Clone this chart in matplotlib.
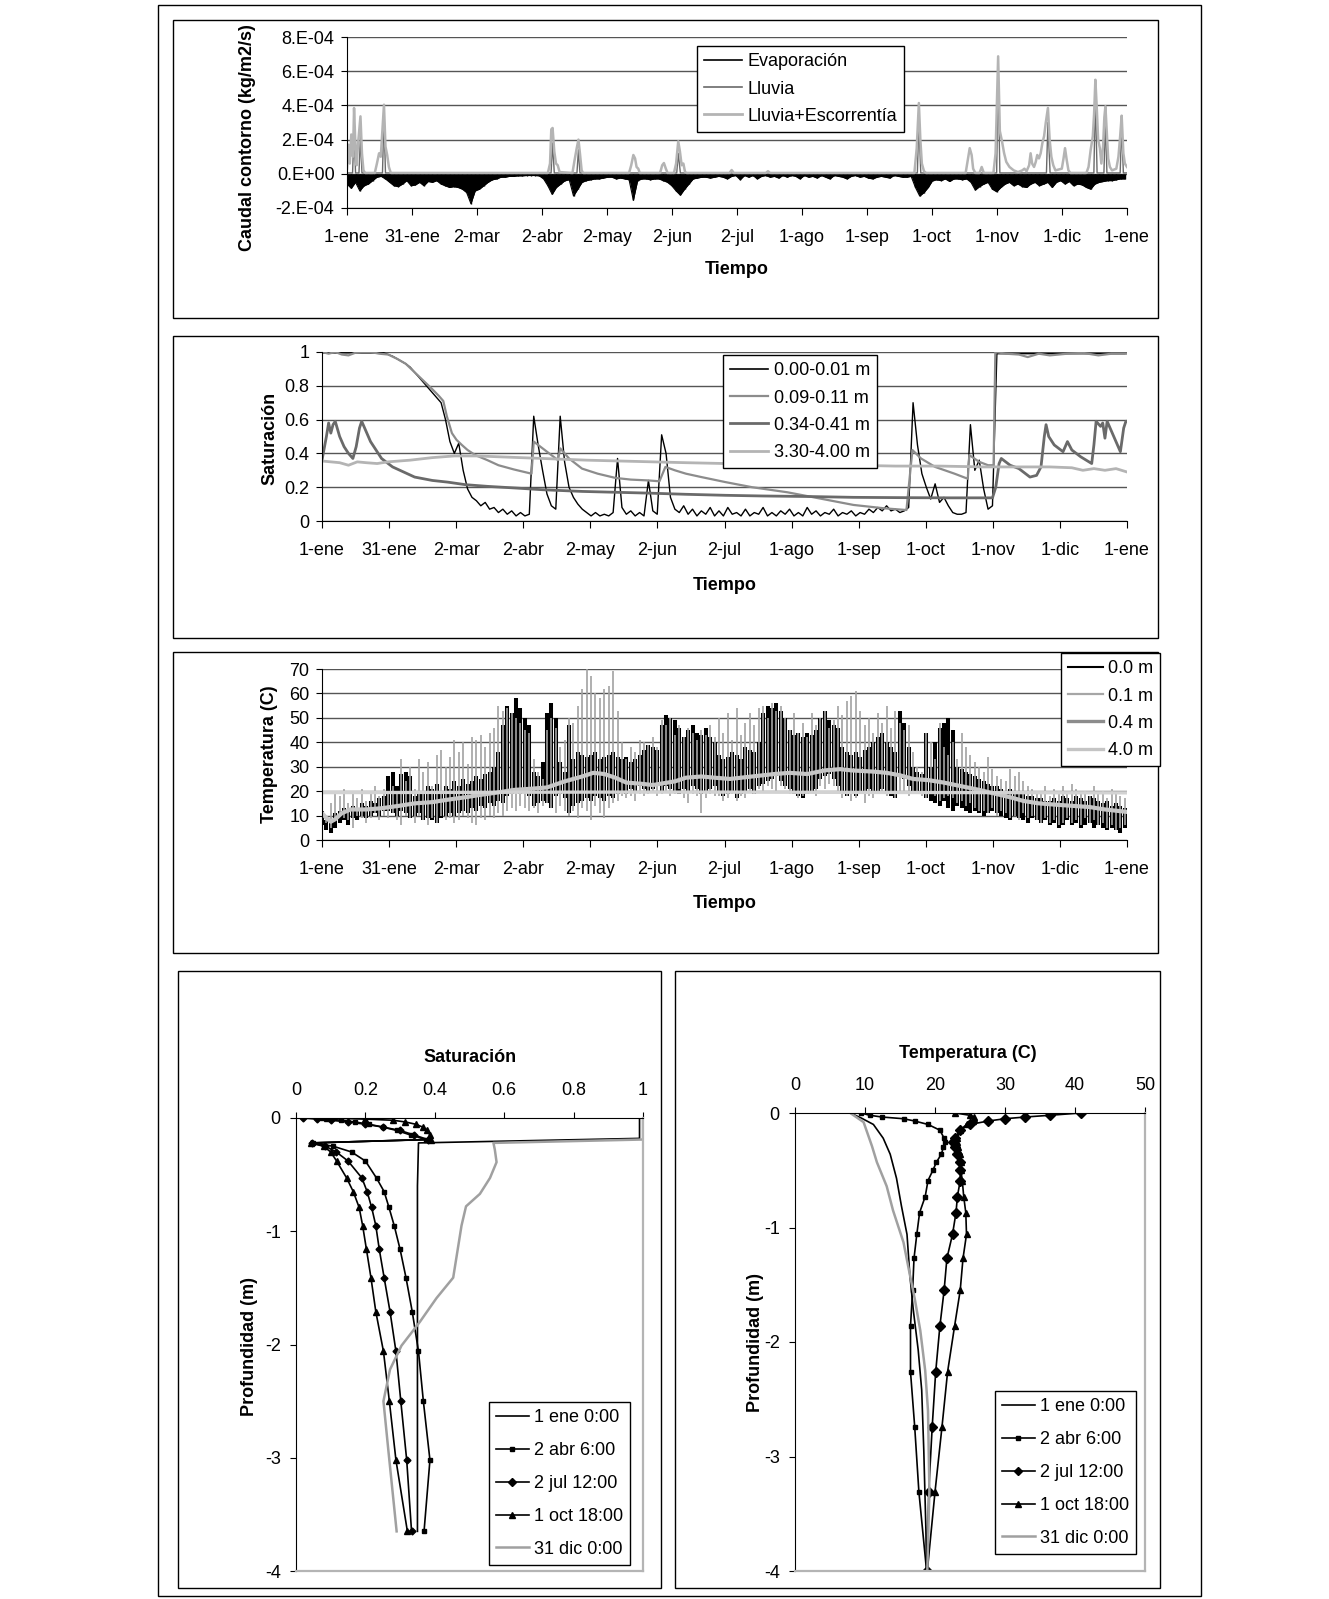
import numpy as np
import matplotlib
matplotlib.use("Agg")
import matplotlib.pyplot as plt
from matplotlib.lines import Line2D
from matplotlib.patches import Rectangle

plt.rcParams['font.family'] = ['Liberation Sans', 'DejaVu Sans']
plt.rcParams['font.size'] = 13

W, H = 1329, 1599

# ---------------- eje de tiempo ----------------
meses = ['1-ene', '31-ene', '2-mar', '2-abr', '2-may', '2-jun', '2-jul',
         '1-ago', '1-sep', '1-oct', '1-nov', '1-dic', '1-ene']
dias = np.arange(0, 365, 2)          # muestreo cada 2 dias

# ---------------- caudal de contorno (x 1e-4 kg/m2/s) ----------------
evap = [
    -0.6, -0.85, -0.5, -1.0, -0.7, -0.6, -0.4, -0.2, -0.15, -0.3, -0.5, -0.7, -0.75, -0.6, -0.4,
    -0.7, -0.65, -0.5, -0.7, -0.45, -0.5, -0.4, -0.6, -0.7, -0.8, -0.75, -0.8, -0.9, -1.1, -1.75,
    -1.0, -0.9, -0.7, -0.5, -0.35, -0.3, -0.2, -0.2, -0.15, -0.15, -0.12, -0.12, -0.1, -0.1, -0.1,
    -0.12, -0.3, -0.7, -1.2, -0.8, -0.6, -0.4, -0.35, -1.3, -0.9, -0.5, -0.4, -0.35, -0.3, -0.3,
    -0.25, -0.2, -0.2, -0.3, -0.25, -0.3, -0.35, -1.55, -0.4, -0.3, -0.3, -0.35, -0.3, -0.3, -0.4,
    -0.5, -0.7, -1.0, -1.25, -0.9, -0.6, -0.3, -0.25, -0.2, -0.2, -0.25, -0.2, -0.15, -0.2, -0.3,
    -0.15, -0.1, -0.35, -0.1, -0.2, -0.1, -0.3, -0.15, -0.1, -0.2, -0.15, -0.25, -0.1, -0.2, -0.1,
    -0.15, -0.3, -0.1, -0.2, -0.15, -0.25, -0.1, -0.2, -0.3, -0.1, -0.15, -0.2, -0.3, -0.15, -0.1,
    -0.2, -0.15, -0.25, -0.3, -0.2, -0.15, -0.2, -0.25, -0.1, -0.15, -0.2, -0.2, -0.15, -0.8, -1.3,
    -1.1, -0.8, -0.4, -0.35, -0.4, -0.3, -0.45, -0.3, -0.3, -0.35, -0.3, -0.5, -0.95, -0.75, -0.6,
    -0.5, -0.9, -1.05, -0.8, -0.6, -0.5, -0.7, -0.6, -0.75, -0.8, -0.6, -0.5, -0.7, -0.6, -0.5,
    -0.8, -0.5, -0.4, -0.6, -0.45, -0.7, -0.6, -0.65, -0.8, -0.9, -0.6, -0.5, -0.45, -0.4, -0.4,
    -0.35, -0.3, -0.3]

lluvia = [
    (0, 0.05), (2.6, 0.05), (3.3, 2.5), (4, 0.05), (5.6, 0.05), (6.3, 2.2), (7, 0.05),
    (16.6, 0.05), (17.3, 3.4), (18, 0.05), (95.5, 0.05), (96.2, 1.8), (97, 0.05),
    (107.6, 0.05), (108.3, 1.4), (109, 0.05), (154.3, 0.05), (155, 1.2), (156, 0.05),
    (266.9, 0.05), (267.6, 3.0), (268.5, 0.05), (304, 0.05), (304.7, 5.9), (305.5, 0.05),
    (327.3, 0.05), (328, 3.0), (329, 0.05), (349.5, 0.05), (350.2, 4.6), (351, 0.05),
    (354.2, 0.05), (354.9, 3.2), (355.6, 0.05), (361.8, 0.05), (362.5, 2.8), (363.3, 0.05),
    (365, 0.05)]

lluvia_esc = [
    (0, 0.3), (0.7, 1.7), (1.3, 0.6), (2, 2.3), (2.8, 1.0), (3.3, 3.85), (4, 1.5), (4.5, 0.5),
    (5.2, 1.8), (6.3, 3.36), (7, 1.2), (7.7, 0.2), (8.5, 0.05),
    (13, 0.05), (14, 0.6), (15, 1.2), (15.8, 1.0), (16.5, 2.4), (17.3, 4.04), (18, 1.6),
    (18.8, 1.1), (19.6, 0.4), (20.5, 0.05),
    (94, 0.05), (95, 0.6), (95.6, 2.6), (96.2, 2.68), (97, 1.3), (97.8, 0.6), (98.6, 0.5),
    (99.5, 0.1), (105.5, 0.05), (106.5, 0.8), (107.5, 1.5), (108.3, 2.0), (109, 1.2),
    (109.8, 0.2), (110.5, 0.05),
    (132, 0.05), (133, 0.5), (134, 1.1), (134.8, 0.9), (135.5, 0.4), (136.3, 0.3), (137, 0.05),
    (146.5, 0.05), (147.5, 0.5), (148.3, 0.63), (149.2, 0.3), (150, 0.05), (153, 0.05),
    (154, 0.6), (155, 1.9), (155.8, 1.3), (156.6, 0.5), (157.4, 0.6), (158.2, 0.1), (159, 0.05),
    (179, 0.05), (180, 0.22), (181, 0.05), (196, 0.05), (197, 0.15), (198, 0.05),
    (265.5, 0.05), (266.6, 1.5), (267.6, 4.14), (268.3, 2.0), (269, 0.6), (270, 0.15), (271, 0.05),
    (289.5, 0.05), (290.5, 0.8), (291.4, 1.5), (292.3, 1.1), (293, 0.3), (294, 0.05),
    (296, 0.05), (297, 0.4), (298, 0.05),
    (302.5, 0.05), (303.5, 1.2), (304.7, 6.87), (305.5, 2.5), (306.5, 1.9), (307.5, 1.2),
    (308.5, 0.7), (310, 0.4), (312, 0.2), (314, 0.1),
    (316, 0.2), (317, 0.3), (318, 0.15), (319.2, 0.5), (319.9, 1.2), (320.6, 0.6), (321.5, 0.4),
    (322.3, 0.7), (323, 1.1), (323.8, 0.9), (324.6, 1.2), (325.4, 1.8), (326.2, 2.2), (327, 3.0),
    (328, 3.85), (328.8, 2.0), (329.6, 1.0), (330.5, 0.5), (331.5, 0.2),
    (334.5, 0.3), (335.3, 0.9), (336, 1.5), (336.8, 0.8), (337.6, 0.2), (338.5, 0.05),
    (346, 0.05), (347, 0.4), (348, 1.4), (349, 2.2), (349.6, 3.5), (350.2, 5.5), (350.8, 4.0),
    (351.5, 2.0), (352.3, 1.5), (353, 0.6), (353.8, 1.6), (354.4, 3.3), (354.9, 3.95),
    (355.5, 2.5), (356.2, 0.9), (357, 0.4), (358, 0.2), (360, 0.3), (361, 1.0), (361.8, 2.2),
    (362.5, 3.4), (363.3, 1.2), (364, 0.6), (365, 0.4)]

# ---------------- saturacion ----------------
sat_000 = [
    0.995, 0.995, 0.995, 0.995, 0.995, 0.995, 0.995, 0.995, 0.995, 0.995, 0.995, 0.995, 0.995, 0.995, 0.995,
    0.985, 0.975, 0.96, 0.945, 0.93, 0.91, 0.88, 0.85, 0.82, 0.79, 0.76, 0.73, 0.70, 0.60, 0.47,
    0.40, 0.46, 0.30, 0.19, 0.14, 0.12, 0.09, 0.11, 0.07, 0.08, 0.05, 0.07, 0.04, 0.06, 0.03,
    0.05, 0.03, 0.04, 0.62, 0.45, 0.30, 0.16, 0.09, 0.07, 0.62, 0.35, 0.20, 0.14, 0.10, 0.07,
    0.05, 0.03, 0.05, 0.03, 0.04, 0.03, 0.05, 0.37, 0.08, 0.04, 0.06, 0.03, 0.05, 0.03, 0.24,
    0.06, 0.04, 0.51, 0.40, 0.14, 0.07, 0.05, 0.09, 0.04, 0.07, 0.03, 0.06, 0.04, 0.08, 0.03,
    0.06, 0.03, 0.08, 0.04, 0.05, 0.03, 0.07, 0.03, 0.05, 0.04, 0.08, 0.03, 0.05, 0.03, 0.06,
    0.04, 0.07, 0.03, 0.05, 0.03, 0.08, 0.04, 0.06, 0.03, 0.05, 0.04, 0.07, 0.03, 0.05, 0.04,
    0.06, 0.03, 0.05, 0.04, 0.07, 0.05, 0.08, 0.06, 0.09, 0.06, 0.07, 0.05, 0.06, 0.08, 0.70,
    0.45, 0.28, 0.20, 0.13, 0.22, 0.11, 0.14, 0.09, 0.05, 0.04, 0.04, 0.05, 0.57, 0.30, 0.36,
    0.19, 0.07, 0.09, 0.99, 0.99, 0.99, 0.99, 0.99, 0.99, 0.99, 0.99, 0.99, 0.99, 0.99, 0.99,
    0.99, 0.99, 0.99, 0.99, 0.99, 0.99, 0.99, 0.99, 0.99, 0.99, 0.99, 0.99, 0.99, 0.99, 0.99,
    0.99, 0.99, 0.99]

sat_009 = [
    (0, 1.0), (3, 0.99), (6, 1.0), (9, 0.985), (12, 0.98), (15, 0.995), (18, 1.0), (22, 1.0),
    (26, 0.99), (30, 0.985), (34, 0.96), (38, 0.93), (42, 0.88), (46, 0.83), (50, 0.78),
    (53, 0.74), (55, 0.71), (56.6, 0.62), (58.9, 0.52), (61, 0.48), (63.4, 0.45), (66, 0.42),
    (69.5, 0.39), (75, 0.36), (80, 0.33), (87, 0.305), (95, 0.28), (96, 0.47), (99, 0.44),
    (103, 0.40), (107, 0.36), (108, 0.43), (112, 0.37), (117.9, 0.31), (125, 0.28),
    (133, 0.255), (140, 0.245), (148, 0.24), (153, 0.235), (155.7, 0.32), (160, 0.30),
    (165, 0.28), (172, 0.26), (183, 0.23), (195, 0.2), (211, 0.17), (225, 0.135),
    (241, 0.095), (255, 0.075), (265, 0.065), (267.7, 0.42), (271.6, 0.37), (278, 0.32),
    (286.8, 0.28), (292.8, 0.25), (293.5, 0.39), (298, 0.35), (302, 0.33), (304.5, 0.33),
    (305.3, 1.0), (310, 0.99), (316, 0.985), (320, 0.97), (325, 0.99), (330, 0.98),
    (338, 0.99), (345, 0.995), (352, 0.98), (358, 0.99), (365, 0.99)]

sat_034 = [
    (0, 0.36), (1, 0.43), (2, 0.5), (3, 0.58), (4, 0.52), (5, 0.57), (6, 0.59), (8, 0.5),
    (10, 0.44), (12, 0.4), (14, 0.37), (15.5, 0.44), (17, 0.55), (18, 0.59), (20, 0.53),
    (22, 0.47), (25, 0.41), (27, 0.37), (32, 0.32), (37, 0.29), (42, 0.26), (50, 0.24),
    (57, 0.23), (65, 0.215), (75, 0.205), (88, 0.195), (100, 0.185), (118, 0.175),
    (133, 0.17), (148, 0.165), (165, 0.158), (183, 0.152), (200, 0.148), (220, 0.145),
    (241, 0.14), (265, 0.138), (285, 0.137), (304, 0.137), (305.5, 0.2), (307, 0.34),
    (308, 0.37), (312, 0.33), (316, 0.31), (321, 0.26), (324, 0.27), (326, 0.32), (327.5, 0.5),
    (328.3, 0.57), (329.5, 0.50), (332, 0.45), (334, 0.43), (336, 0.41), (337, 0.44),
    (338, 0.47), (340, 0.42), (344, 0.38), (349, 0.34), (350, 0.45), (351, 0.59), (353, 0.56),
    (354, 0.58), (355, 0.49), (356, 0.59), (358, 0.53), (360, 0.47), (362, 0.41),
    (363.5, 0.55), (364.5, 0.59), (365, 0.59)]

sat_330 = [
    (0, 0.355), (4, 0.35), (8, 0.345), (12, 0.33), (16, 0.35), (20, 0.345), (25, 0.34),
    (30, 0.35), (40, 0.36), (50, 0.375), (60, 0.385), (70, 0.385), (80, 0.38), (90, 0.375),
    (100, 0.37), (110, 0.365), (120, 0.36), (135, 0.355), (150, 0.35), (165, 0.345),
    (183, 0.34), (200, 0.335), (220, 0.33), (240, 0.33), (260, 0.325), (280, 0.325),
    (300, 0.32), (315, 0.32), (330, 0.32), (340, 0.315), (345, 0.30), (350, 0.31),
    (355, 0.30), (360, 0.31), (365, 0.29)]

# ---------------- temperatura (C): maximo / minimo cada 2 dias ----------------
t01_max = [
    12, 10, 15, 19, 18, 21, 15, 20, 17, 21, 16, 20, 22, 18, 21,
    20, 22, 19, 33, 24, 30, 21, 33, 28, 32, 22, 35, 37, 30, 34,
    41, 36, 40, 31, 42, 41, 43, 38, 44, 46, 55, 53, 54, 52, 50,
    48, 45, 44, 33, 28, 25, 45, 50, 46, 38, 41, 50, 48, 55, 62,
    70, 67, 60, 58, 62, 63, 69, 53, 40, 33, 38, 36, 41, 40, 39,
    42, 38, 49, 47, 50, 43, 47, 42, 46, 44, 41, 45, 43, 47, 42,
    50, 44, 52, 41, 54, 43, 48, 52, 47, 54, 55, 50, 56, 53, 55,
    50, 45, 52, 44, 48, 42, 52, 47, 50, 53, 46, 49, 55, 51, 57,
    59, 61, 53, 47, 50, 44, 52, 48, 55, 46, 53, 48, 45, 47, 36,
    30, 28, 44, 40, 33, 48, 38, 35, 40, 33, 44, 38, 35, 32, 30,
    28, 34, 29, 26, 25, 24, 29, 26, 28, 24, 22, 21, 20, 19, 22,
    18, 21, 20, 22, 19, 23, 21, 19, 20, 18, 22, 19, 20, 17, 21,
    19, 18, 17]
t01_min = [
    9, 7, 5, 8, 10, 9, 8, 5, 10, 9, 7, 9, 11, 8, 10,
    9, 11, 8, 6, 10, 9, 7, 10, 8, 6, 9, 7, 10, 8, 9,
    7, 8, 10, 9, 7, 6, 9, 8, 10, 9, 11, 10, 12, 13, 12,
    14, 13, 12, 13, 11, 14, 15, 13, 11, 14, 12, 10, 12, 9, 13,
    12, 8, 14, 11, 9, 13, 15, 16, 18, 17, 18, 16, 19, 18, 19,
    20, 18, 19, 20, 18, 19, 21, 17, 15, 19, 18, 11, 17, 19, 18,
    18, 16, 17, 19, 16, 18, 17, 20, 19, 21, 20, 22, 21, 20, 22,
    21, 19, 20, 17, 18, 19, 20, 18, 22, 21, 23, 22, 20, 17, 18,
    16, 17, 19, 15, 18, 17, 19, 20, 18, 19, 17, 20, 19, 18, 20,
    19, 18, 17, 19, 18, 16, 17, 18, 17, 15, 16, 14, 15, 13, 12,
    12, 11, 13, 10, 12, 11, 9, 10, 8, 11, 9, 10, 8, 7, 9,
    7, 8, 6, 7, 9, 7, 8, 6, 9, 7, 8, 6, 7, 5, 6,
    4, 5, 6]
t00_max = [
    12, 8, 7, 11, 12, 13, 12, 14, 13, 15, 14, 16, 15, 17, 18,
    26, 28, 22, 27, 28, 26, 18, 20, 19, 22, 21, 23, 20, 22, 21,
    24, 22, 25, 23, 24, 26, 25, 27, 28, 30, 36, 47, 55, 52, 58,
    54, 50, 47, 28, 26, 32, 52, 56, 50, 32, 28, 47, 33, 36, 35,
    34, 35, 36, 33, 34, 35, 36, 34, 33, 34, 32, 33, 35, 37, 39,
    38, 37, 47, 51, 50, 49, 46, 42, 45, 47, 44, 43, 46, 42, 40,
    35, 33, 34, 36, 35, 33, 38, 37, 36, 40, 52, 55, 54, 56, 53,
    50, 45, 43, 44, 42, 44, 43, 45, 50, 53, 49, 47, 46, 38, 36,
    35, 36, 34, 37, 38, 40, 42, 44, 40, 38, 36, 53, 48, 38, 30,
    28, 27, 44, 30, 40, 46, 48, 50, 45, 30, 29, 28, 27, 26, 25,
    24, 23, 22, 22, 21, 20, 21, 20, 19, 19, 18, 18, 17, 17, 16,
    16, 17, 16, 18, 17, 16, 18, 17, 16, 18, 17, 16, 15, 16, 14,
    15, 14, 13]
t00_min = [
    6, 4, 3, 5, 7, 8, 6, 9, 8, 10, 9, 10, 11, 10, 12,
    12, 11, 10, 12, 11, 9, 10, 11, 8, 9, 8, 7, 9, 10, 11,
    10, 11, 12, 11, 13, 12, 14, 13, 15, 14, 16, 15, 18, 19, 20,
    19, 20, 18, 14, 15, 16, 15, 13, 18, 19, 17, 11, 14, 15, 16,
    17, 16, 18, 17, 16, 18, 17, 19, 20, 19, 21, 20, 22, 21, 20,
    21, 22, 20, 22, 21, 20, 19, 21, 20, 22, 21, 19, 20, 21, 22,
    20, 18, 19, 20, 17, 19, 20, 21, 19, 22, 23, 24, 25, 26, 24,
    22, 21, 19, 18, 17, 19, 20, 21, 25, 26, 27, 25, 22, 19, 18,
    19, 18, 20, 19, 21, 20, 19, 21, 20, 18, 17, 26, 25, 22, 20,
    20, 19, 17, 16, 15, 14, 16, 13, 12, 14, 13, 12, 11, 12, 11,
    10, 11, 12, 11, 10, 9, 8, 10, 9, 8, 7, 9, 8, 7, 8,
    6, 7, 5, 6, 8, 6, 7, 5, 6, 7, 5, 6, 5, 4, 5,
    4, 3, 5]
t04 = [
    (0, 11), (2, 9), (4, 7.5), (6, 8.5), (9, 11), (13, 12.5), (20, 12.5), (27, 13), (35, 14),
    (42, 15), (50, 15.5), (57, 16.5), (65, 17.5), (72, 18.5), (80, 19.5), (87, 20.5), (95, 21),
    (102, 21.5), (110, 24), (118, 26), (123, 27.5), (128, 27), (133, 25.5), (138, 23.5),
    (145, 23), (150, 22.5), (160, 24), (165, 25.5), (172, 26), (178, 25.5), (185, 25),
    (195, 26), (205, 27), (212, 27.5), (220, 27), (228, 28.5), (235, 29), (240, 28.5),
    (250, 28), (256, 27.5), (262, 26.5), (268, 25), (275, 24.5), (282, 23.5), (290, 22),
    (298, 20.5), (305, 19), (312, 17.5), (318, 16), (325, 15), (332, 14.5), (340, 14),
    (348, 13.5), (355, 12.5), (365, 11.5)]
t40 = [(0, 19.4), (60, 19.5), (120, 19.6), (180, 19.6), (240, 19.5), (300, 19.4), (365, 19.3)]

# ---------------- perfiles de saturacion ----------------
prof_sup = [0, -0.01, -0.02, -0.035, -0.055, -0.08, -0.11, -0.15, -0.19]
prof_inf = [-0.22, -0.25, -0.30, -0.38, -0.53, -0.65, -0.79, -0.95, -1.16, -1.41, -1.71,
            -2.06, -2.50, -3.02, -3.65]
prof_s = prof_sup + prof_inf
sat_abr = [0.075, 0.10, 0.13, 0.17, 0.21, 0.25, 0.29, 0.33, 0.375,
           0.05, 0.108, 0.16, 0.20, 0.232, 0.254, 0.268, 0.283, 0.30, 0.317, 0.335, 0.353,
           0.367, 0.386, 0.369]
sat_jul = [0.02, 0.06, 0.10, 0.15, 0.20, 0.25, 0.30, 0.34, 0.38,
           0.045, 0.085, 0.116, 0.15, 0.19, 0.205, 0.218, 0.23, 0.24, 0.254, 0.271, 0.288,
           0.302, 0.319, 0.333]
sat_oct = [0.09, 0.20, 0.28, 0.315, 0.345, 0.365, 0.378, 0.386, 0.39,
           0.042, 0.08, 0.10, 0.117, 0.146, 0.165, 0.182, 0.192, 0.203, 0.216, 0.23, 0.252,
           0.269, 0.288, 0.321]
prof_ene_s = [0, -0.18, -0.22, -0.6, -3.65]
sat_ene = [0.99, 0.99, 0.353, 0.35, 0.35]
prof_dic_s = [0, -0.19, -0.22, -0.28, -0.39, -0.53, -0.67, -0.78, -0.95, -1.41, -1.59,
              -1.80, -2.01, -2.22, -2.50, -2.93, -3.65]
sat_dic = [1.0, 1.0, 0.569, 0.573, 0.578, 0.559, 0.53, 0.49, 0.477, 0.453, 0.405, 0.357,
           0.304, 0.271, 0.252, 0.266, 0.29]

# ---------------- perfiles de temperatura ----------------
prof_t = [0, -0.02, -0.035, -0.05, -0.07, -0.1, -0.15, -0.22, -0.25, -0.3, -0.36, -0.43,
          -0.5, -0.59, -0.73, -0.87, -1.06, -1.27, -1.55, -1.86, -2.26, -2.74, -3.31, -4.0]
temp_abr = [9.4, 10.7, 12.4, 15.5, 17.1, 19.0, 20.7, 21.3, 21.4, 21.2, 20.9, 20.2, 19.7,
            19.0, 18.6, 17.8, 17.4, 17.0, 16.8, 16.5, 16.5, 17.1, 17.7, 18.8]
temp_jul = [40.8, 36.4, 32.9, 30.0, 27.6, 25.0, 23.5, 22.9, 22.6, 22.9, 23.2, 23.5, 23.6,
            23.6, 23.2, 23.0, 22.5, 21.7, 21.3, 20.7, 20.1, 19.6, 19.1, 18.9]
temp_oct = [22.9, 25.0, 25.6, 25.6, 25.4, 24.5, 23.6, 23.2, 23.2, 23.3, 23.6, 23.7, 23.7,
            23.9, 24.1, 24.4, 24.5, 24.0, 23.6, 22.8, 21.8, 21.0, 20.0, 18.9]
prof_ene_t = [0, -0.045, -0.1, -0.22, -0.36, -0.57, -0.81, -1.06, -1.41, -1.72, -2.07,
              -2.42, -2.95, -3.64, -4.0]
temp_ene = [7.9, 9.5, 11.2, 12.6, 13.6, 14.5, 15.2, 16.0, 16.4, 16.9, 17.6, 18.1, 18.4,
            18.7, 18.8]
prof_dic_t = [0, -0.08, -0.15, -0.29, -0.43, -0.64, -0.85, -1.13, -1.41, -1.62, -1.9,
              -2.25, -2.6, -3.3, -4.0]
temp_dic = [7.9, 9.8, 10.2, 11.0, 11.7, 13.1, 14.0, 15.5, 16.4, 17.1, 17.9, 18.6, 19.0,
            19.2, 18.9]

NEGRO, GRIS_OSC, GRIS, GRIS_CL = '#000000', '#6a6a6a', '#8c8c8c', '#b4b4b4'

fig = plt.figure(figsize=(W / 100, H / 100), dpi=100)


def px_axes(x0, y0, x1, y1):
    return fig.add_axes([x0 / W, 1 - y1 / H, (x1 - x0) / W, (y1 - y0) / H])


def marco(x0, y0, x1, y1, lw=1.0):
    fig.add_artist(Rectangle((x0 / W, 1 - y1 / H), (x1 - x0) / W, (y1 - y0) / H,
                             transform=fig.transFigure, fill=False, ec='k', lw=lw, zorder=-1))


def texto(x, y, s, **kw):
    fig.text(x / W, 1 - y / H, s, ha='center', va='center', **kw)


def xy(pares):
    a = np.array(pares, dtype=float)
    return a[:, 0], a[:, 1]


def leyenda(ax, handles, x0, y0, sep=0.57, largo=2.1):
    lg = ax.legend(handles=handles, loc='upper left', bbox_to_anchor=(x0 / W, 1 - y0 / H),
                   bbox_transform=fig.transFigure, borderaxespad=0, fancybox=False,
                   edgecolor='k', framealpha=1, handlelength=largo, handletextpad=0.3,
                   borderpad=0.4, labelspacing=sep, numpoints=1, fontsize=13)
    lg.get_frame().set_linewidth(1.0)
    return lg


def estilo_tiempo(ax, ylim, yticks, ylabels):
    ax.set_xlim(0, 365)
    ax.set_ylim(*ylim)
    ax.set_xticks(np.linspace(0, 365, 13))
    ax.set_xticklabels(meses)
    ax.set_yticks(yticks)
    ax.set_yticklabels(ylabels)
    ax.yaxis.grid(True, color='#555555', lw=1.0)
    ax.set_axisbelow(True)
    for s in ('top', 'right'):
        ax.spines[s].set_visible(False)
    ax.tick_params(axis='x', direction='out', length=5, pad=10)
    ax.tick_params(axis='y', direction='out', length=4, pad=5)


def estilo_perfil(ax, xlim, xticks, xlabels):
    ax.set_xlim(*xlim)
    ax.set_ylim(-4, 0)
    ax.xaxis.tick_top()
    ax.set_xticks(xticks)
    ax.set_xticklabels(xlabels)
    ax.set_yticks([0, -1, -2, -3, -4])
    ax.set_yticklabels(['0', '-1', '-2', '-3', '-4'])
    for s in ('right', 'bottom'):
        ax.spines[s].set_color(GRIS_CL)
        ax.spines[s].set_linewidth(1.6)
    ax.tick_params(axis='x', top=True, bottom=False, direction='out', length=4, pad=10)
    ax.tick_params(axis='y', direction='out', length=4, pad=7)


# marcos de cada grafico y del conjunto
marco(158, 5, 1201, 1596)
marco(173, 20, 1158, 318)
marco(173, 336, 1158, 638)
marco(173, 652, 1158, 953)
marco(178, 971, 661, 1588)
marco(675, 971, 1160, 1588)

# ---------- 1. caudal de contorno ----------
ax1 = px_axes(347, 37, 1127, 208)
e = np.array(evap) * 1e-4
ax1.fill_between(dias, 0, e, color=NEGRO, lw=0)
ax1.vlines(dias, 0, e, color=NEGRO, lw=1.0)
ax1.plot(dias, e, color=NEGRO, lw=0.8)
d, v = xy(lluvia)
ax1.plot(d, v * 1e-4, color=GRIS_OSC, lw=1.0)
d, v = xy(lluvia_esc)
ax1.plot(d, v * 1e-4, color=GRIS_CL, lw=1.8)
estilo_tiempo(ax1, (-2e-4, 8e-4), np.arange(-2e-4, 8.1e-4, 2e-4),
              ['-2.E-04', '0.E+00', '2.E-04', '4.E-04', '6.E-04', '8.E-04'])
leyenda(ax1, [Line2D([], [], color=NEGRO, lw=1.2, label='Evaporación'),
              Line2D([], [], color=GRIS_OSC, lw=1.2, label='Lluvia'),
              Line2D([], [], color=GRIS_CL, lw=2.0, label='Lluvia+Escorrentía')],
        697, 46)
texto(248, 138, 'Caudal contorno (kg/m2/s)', rotation=90, fontweight='bold')
texto(737, 269, 'Tiempo', fontweight='bold')

# ---------- 2. saturacion ----------
ax2 = px_axes(322, 352, 1127, 521)
ax2.plot(dias, sat_000, color=NEGRO, lw=1.0)
d, v = xy(sat_009)
ax2.plot(d, v, color=GRIS, lw=1.6)
d, v = xy(sat_034)
ax2.plot(d, v, color=GRIS_OSC, lw=2.0)
d, v = xy(sat_330)
ax2.plot(d, v, color=GRIS_CL, lw=2.0)
estilo_tiempo(ax2, (0, 1), [0, 0.2, 0.4, 0.6, 0.8, 1.0], ['0', '0.2', '0.4', '0.6', '0.8', '1'])
leyenda(ax2, [Line2D([], [], color=NEGRO, lw=1.2, label='0.00-0.01 m'),
              Line2D([], [], color=GRIS, lw=1.6, label='0.09-0.11 m'),
              Line2D([], [], color=GRIS_OSC, lw=2.0, label='0.34-0.41 m'),
              Line2D([], [], color=GRIS_CL, lw=2.0, label='3.30-4.00 m')],
        723, 355)
texto(270, 438, 'Saturación', rotation=90, fontweight='bold')
texto(725, 585, 'Tiempo', fontweight='bold')

# ---------- 3. temperatura ----------
ax3 = px_axes(322, 669, 1127, 840)
ax3.vlines(dias, t00_min, t00_max, color=NEGRO, lw=2.9)
ax3.vlines(dias, t01_min, t01_max, color='#a2a2a2', lw=1.2)
d, v = xy(t04)
ax3.plot(d, v, color='#c6c6c6', lw=3.0)
d, v = xy(t40)
ax3.plot(d, v, color='#d2d2d2', lw=2.4)
estilo_tiempo(ax3, (0, 70), np.arange(0, 71, 10), [str(t) for t in range(0, 71, 10)])
leyenda(ax3, [Line2D([], [], color=NEGRO, lw=1.5, label='0.0 m'),
              Line2D([], [], color='#a6a6a6', lw=1.6, label='0.1 m'),
              Line2D([], [], color=GRIS, lw=2.4, label='0.4 m'),
              Line2D([], [], color='#c4c4c4', lw=2.4, label='4.0 m')],
        1061, 653, largo=1.9)
texto(270, 754, 'Temperatura (C)', rotation=90, fontweight='bold')
texto(725, 903, 'Tiempo', fontweight='bold')

# ---------- 4. perfiles de saturacion ----------
ax4 = px_axes(296, 1118, 643, 1571)
ax4.plot(sat_ene, prof_ene_s, color=NEGRO, lw=1.2)
ax4.plot(sat_abr, prof_s, color=NEGRO, lw=1.2, marker='s', ms=3.5)
ax4.plot(sat_jul, prof_s, color=NEGRO, lw=1.2, marker='D', ms=3.5)
ax4.plot(sat_oct, prof_s, color=NEGRO, lw=1.2, marker='^', ms=4)
ax4.plot(sat_dic, prof_dic_s, color='#a0a0a0', lw=1.8)
estilo_perfil(ax4, (0, 1), [0, 0.2, 0.4, 0.6, 0.8, 1.0], ['0', '0.2', '0.4', '0.6', '0.8', '1'])
manejadores = [Line2D([], [], color=NEGRO, lw=1.2, label='1 ene 0:00'),
               Line2D([], [], color=NEGRO, lw=1.2, marker='s', ms=3.5, label='2 abr 6:00'),
               Line2D([], [], color=NEGRO, lw=1.2, marker='D', ms=4.5, label='2 jul 12:00'),
               Line2D([], [], color=NEGRO, lw=1.2, marker='^', ms=4.5, label='1 oct 18:00'),
               Line2D([], [], color='#a0a0a0', lw=1.8, label='31 dic 0:00')]
leyenda(ax4, manejadores, 489, 1402, sep=0.88, largo=1.8)
texto(470, 1058, 'Saturación', fontweight='bold')
texto(250, 1346, 'Profundidad (m)', rotation=90, fontweight='bold')

# ---------- 5. perfiles de temperatura ----------
ax5 = px_axes(795, 1113, 1145, 1571)
ax5.plot(temp_ene, prof_ene_t, color=NEGRO, lw=1.2)
ax5.plot(temp_abr, prof_t, color=NEGRO, lw=1.2, marker='s', ms=3.5)
ax5.plot(temp_jul, prof_t, color=NEGRO, lw=1.2, marker='D', ms=5)
ax5.plot(temp_oct, prof_t, color=NEGRO, lw=1.2, marker='^', ms=4.5)
ax5.plot(temp_dic, prof_dic_t, color='#a0a0a0', lw=1.8)
estilo_perfil(ax5, (0, 50), [0, 10, 20, 30, 40, 50], ['0', '10', '20', '30', '40', '50'])
leyenda(ax5, manejadores, 995, 1391, sep=0.88, largo=1.8)
texto(968, 1054, 'Temperatura (C)', fontweight='bold')
texto(755, 1342, 'Profundidad (m)', rotation=90, fontweight='bold')

fig.savefig('out.png', dpi=100)
